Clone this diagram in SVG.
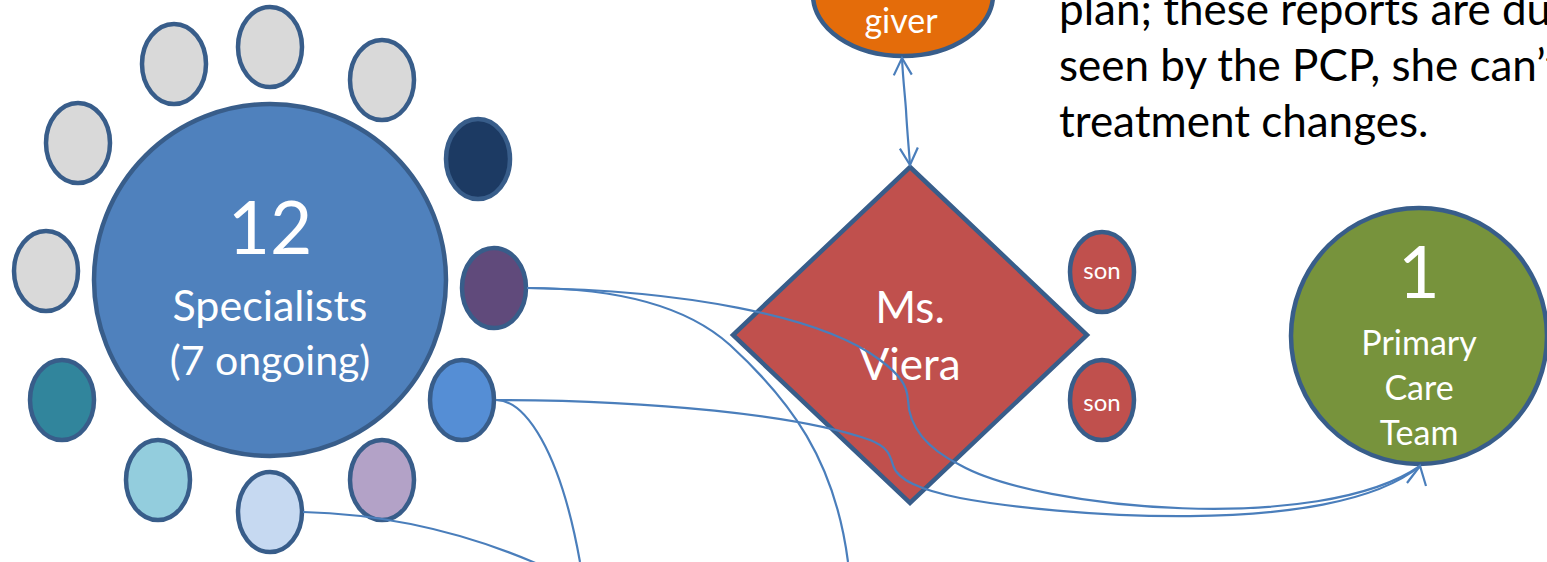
<svg xmlns="http://www.w3.org/2000/svg" width="1547" height="562" viewBox="0 0 1547 562">
<style>
.node{stroke:#385D8A;stroke-width:4.5}
.gray{fill:#D9D9D9}
.lbl{font-family:Lato,"Liberation Sans",sans-serif;fill:#FFFFFF;text-anchor:middle}
.para{font-family:Lato,"Liberation Sans",sans-serif;fill:#000000;font-size:44px}
.conn{fill:none;stroke:#4A7EBB;stroke-width:2.2}
</style>
<defs>
<marker id="open" markerUnits="userSpaceOnUse" markerWidth="24" markerHeight="24" viewBox="-20 -12 24 24" refX="0" refY="0" orient="auto-start-reverse">
<path d="M-17,-9 L0,0 L-17,9" fill="none" stroke="#4A7EBB" stroke-width="2.2"/>
</marker>
</defs>
<rect width="1547" height="562" fill="#FFFFFF"/>

<g id="specialists">
<circle class="node" cx="270" cy="280" r="176" fill="#4F81BD"/>
<text class="lbl" x="270" y="254" font-size="73">12</text>
<text class="lbl" x="270" y="321" font-size="43">Specialists</text>
<text class="lbl" x="270" y="375" font-size="41">(7 ongoing)</text>
</g>
<g id="spec-1"><ellipse class="node gray" cx="174" cy="64" rx="32" ry="40"/></g>
<g id="spec-2"><ellipse class="node gray" cx="270" cy="47" rx="32" ry="40"/></g>
<g id="spec-3"><ellipse class="node gray" cx="382" cy="80" rx="32" ry="40"/></g>
<g id="spec-4"><ellipse class="node" cx="478" cy="159" rx="32" ry="40" fill="#1C3A63"/></g>
<g id="spec-5"><ellipse class="node" cx="494" cy="288" rx="32" ry="40" fill="#604A7B"/></g>
<g id="spec-6"><ellipse class="node" cx="462" cy="400" rx="32" ry="40" fill="#558ED5"/></g>
<g id="spec-7"><ellipse class="node" cx="382" cy="480" rx="32" ry="40" fill="#B3A2C7"/></g>
<g id="spec-8"><ellipse class="node" cx="270" cy="512" rx="32" ry="40" fill="#C6D9F1"/></g>
<g id="spec-9"><ellipse class="node" cx="158" cy="480" rx="32" ry="40" fill="#93CDDD"/></g>
<g id="spec-10"><ellipse class="node" cx="62" cy="400" rx="32" ry="40" fill="#31859C"/></g>
<g id="spec-11"><ellipse class="node gray" cx="46" cy="271" rx="32" ry="40"/></g>
<g id="spec-12"><ellipse class="node gray" cx="78" cy="143" rx="32" ry="40"/></g>

<g id="caregiver">
<ellipse class="node" cx="903" cy="-5" rx="90" ry="61" fill="#E46C0A"/>
<text class="lbl" x="901" y="33" font-size="34">giver</text>
</g>

<g id="ms-viera">
<polygon class="node" points="910,167 1087,335 910,503 733,335" fill="#C0504D" stroke-linejoin="miter"/>
<text class="lbl" x="910" y="323" font-size="44">Ms.</text>
<text class="lbl" x="910" y="380" font-size="44">Viera</text>
</g>

<g id="son-1">
<ellipse class="node" cx="1102" cy="272" rx="32" ry="40" fill="#C0504D"/>
<text class="lbl" x="1102" y="279" font-size="24">son</text>
</g>
<g id="son-2">
<ellipse class="node" cx="1102" cy="400" rx="32" ry="40" fill="#C0504D"/>
<text class="lbl" x="1102" y="411" font-size="24">son</text>
</g>

<g id="primary-care">
<circle class="node" cx="1419" cy="336" r="128" fill="#77933C"/>
<text class="lbl" x="1419" y="298" font-size="72">1</text>
<text class="lbl" x="1419" y="355" font-size="34">Primary</text>
<text class="lbl" x="1419" y="400" font-size="34">Care</text>
<text class="lbl" x="1419" y="445" font-size="34">Team</text>
</g>

<g id="note">
<text class="para" x="1059" y="25">plan; these reports are du</text>
<text class="para" x="1059" y="81">seen by the PCP, she can’t</text>
<text class="para" x="1059" y="137">treatment changes.</text>
</g>

<g id="connectors">
<path class="conn" d="M902,58 C903,80 905,95 906,110 C907,130 909,150 910,165" marker-start="url(#open)" marker-end="url(#open)"/>
<path class="conn" d="M527,288 C680,290 820,315 880,360 C900,375 907,385 908,400 C909,430 930,450 960,465 C1040,510 1320,535 1420,466"/>
<path class="conn" d="M496,400 C650,400 800,415 870,440 C888,447 890,455 893,465 C897,480 920,490 960,498 C1050,515 1330,540 1420,466"/>
<path class="conn" d="M1407,483 L1420,466 L1426,486"/>
<path class="conn" d="M527,288 C600,288 680,300 730,345 C790,400 835,460 848,562"/>
<path class="conn" d="M496,400 C525,400 560,450 580,562"/>
<path class="conn" d="M303,512 C380,514 460,530 540,565"/>
</g>
</svg>
